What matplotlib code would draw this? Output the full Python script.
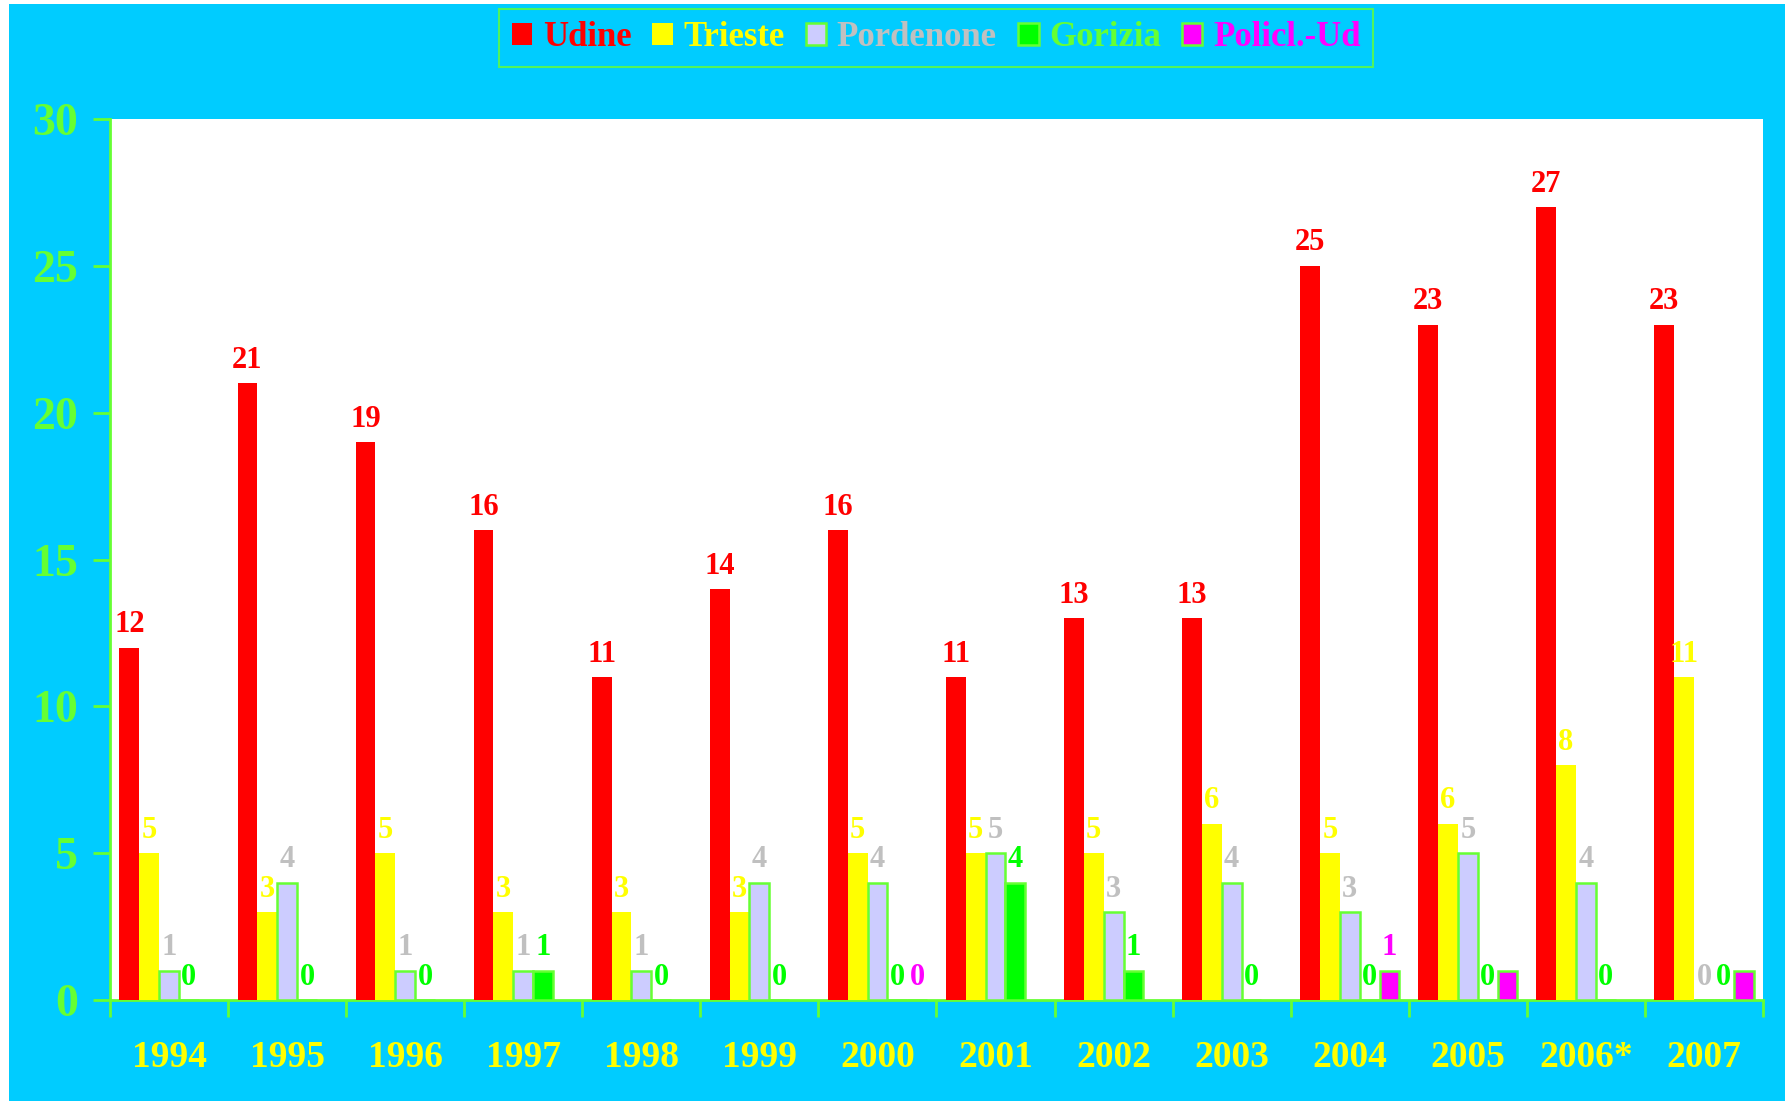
import numpy as np
import matplotlib
matplotlib.use("Agg")
import matplotlib.pyplot as plt
from matplotlib.patches import Patch, Rectangle

years = ['1994', '1995', '1996', '1997', '1998', '1999', '2000',
         '2001', '2002', '2003', '2004', '2005', '2006*', '2007']
nan = np.nan
udine = [12, 21, 19, 16, 11, 14, 16, 11, 13, 13, 25, 23, 27, 23]
trieste = [5, 3, 5, 3, 3, 3, 5, 5, 5, 6, 5, 6, 8, 11]
pordenone = [1, 4, 1, 1, 1, 4, 4, 5, 3, 4, 3, 5, 4, 0]
gorizia = [0, 0, 0, 1, 0, 0, 0, 4, 1, 0, 0, 0, 0, 0]
policl = [nan, nan, nan, nan, nan, nan, 0, nan, nan, nan, 1, 1, nan, 1]
# the original only prints a few of the Policl. labels
policl_shown = [False] * 6 + [True, False, False, False, True, False, False, False]

names = ['Udine', 'Trieste', 'Pordenone', 'Gorizia', 'Policl.-Ud']
fills = ['#FF0000', '#FFFF00', '#CCCCFF', '#00FF00', '#FF00FF']
edges = [None, None, '#66FF33', '#66FF33', '#66FF33']
label_cols = ['#FF0000', '#FFFF00', '#C0C0C0', '#00FF00', '#FF00FF']
legend_cols = ['#FF0000', '#FFFF00', '#C0C0C0', '#66FF33', '#FF00FF']

cyan = '#00CCFF'
axcol = '#66FF33'
serif = ['Liberation Serif', 'DejaVu Serif']

W, H = 1790, 1101
fig = plt.figure(figsize=(W / 100, H / 100), dpi=100, facecolor='white')
# cyan panel behind everything, with the thin white margin of the original
bg = Rectangle((9 / W, 0), (1785 - 9) / W, (H - 4) / H,
               transform=fig.transFigure, facecolor=cyan, edgecolor='none')
bg.set_zorder(-10)
fig.patches.append(bg)

ax = fig.add_axes([110 / W, (H - 1000) / H, (1763 - 110) / W, (1000 - 119) / H])
ax.set_zorder(1)
ax.set_facecolor('white')

x = np.arange(len(years))
w = 0.168
series = [udine, trieste, pordenone, gorizia, policl]
for i, vals in enumerate(series):
    vals = np.array(vals, dtype=float)
    pos = x + (i - 2) * w
    ok = ~np.isnan(vals)
    ax.bar(pos[ok], vals[ok], w, color=fills[i],
           edgecolor=edges[i] if edges[i] else fills[i],
           linewidth=1.8 if edges[i] else 0, zorder=3)
    for j in range(len(years)):
        if np.isnan(vals[j]):
            continue
        if i == 4 and not policl_shown[j]:
            continue
        ax.annotate('%d' % vals[j], (pos[j], vals[j]), xytext=(0, 6),
                    textcoords='offset points', ha='center', va='bottom',
                    color=label_cols[i], fontsize=22, fontweight='bold',
                    family=serif, zorder=4)

ax.set_xlim(-0.5, len(years) - 0.5)
ax.set_ylim(0, 30)
ax.set_yticks([0, 5, 10, 15, 20, 25, 30])
ax.set_xticks(x)
ax.set_xticklabels(years)
ax.set_xticks(np.arange(-0.5, len(years)), minor=True)

for s in ['top', 'right']:
    ax.spines[s].set_visible(False)
for s in ['left', 'bottom']:
    ax.spines[s].set_color(axcol)
    ax.spines[s].set_linewidth(2)

ax.tick_params(axis='x', which='major', length=0, pad=29)
ax.tick_params(axis='x', which='minor', length=12, width=2, color=axcol, direction='out')
ax.tick_params(axis='y', length=12, width=2, color=axcol, direction='out', pad=11)
for t in ax.get_xticklabels():
    t.set_color('#FFFF00')
    t.set_fontsize(27)
    t.set_fontweight('bold')
    t.set_family(serif)
for t in ax.get_yticklabels():
    t.set_color(axcol)
    t.set_fontsize(33)
    t.set_fontweight('bold')
    t.set_family(serif)

handles = [Patch(facecolor=fills[i], edgecolor=edges[i] if edges[i] else fills[i],
                 linewidth=1.8 if edges[i] else 0) for i in range(5)]
leg = fig.legend(handles, names, loc='center', bbox_to_anchor=(936 / W, 1 - 38 / H),
                 ncol=5, frameon=True, facecolor=cyan, edgecolor=axcol,
                 fancybox=False, handlelength=0.6, handleheight=0.6,
                 handletextpad=0.3, columnspacing=0.6, borderpad=0.35,
                 prop={'family': serif, 'weight': 'bold', 'size': 25})
leg.get_frame().set_linewidth(1.5)
for t, c in zip(leg.get_texts(), legend_cols):
    t.set_color(c)

fig.savefig('out.png', dpi=100, facecolor=fig.get_facecolor())
